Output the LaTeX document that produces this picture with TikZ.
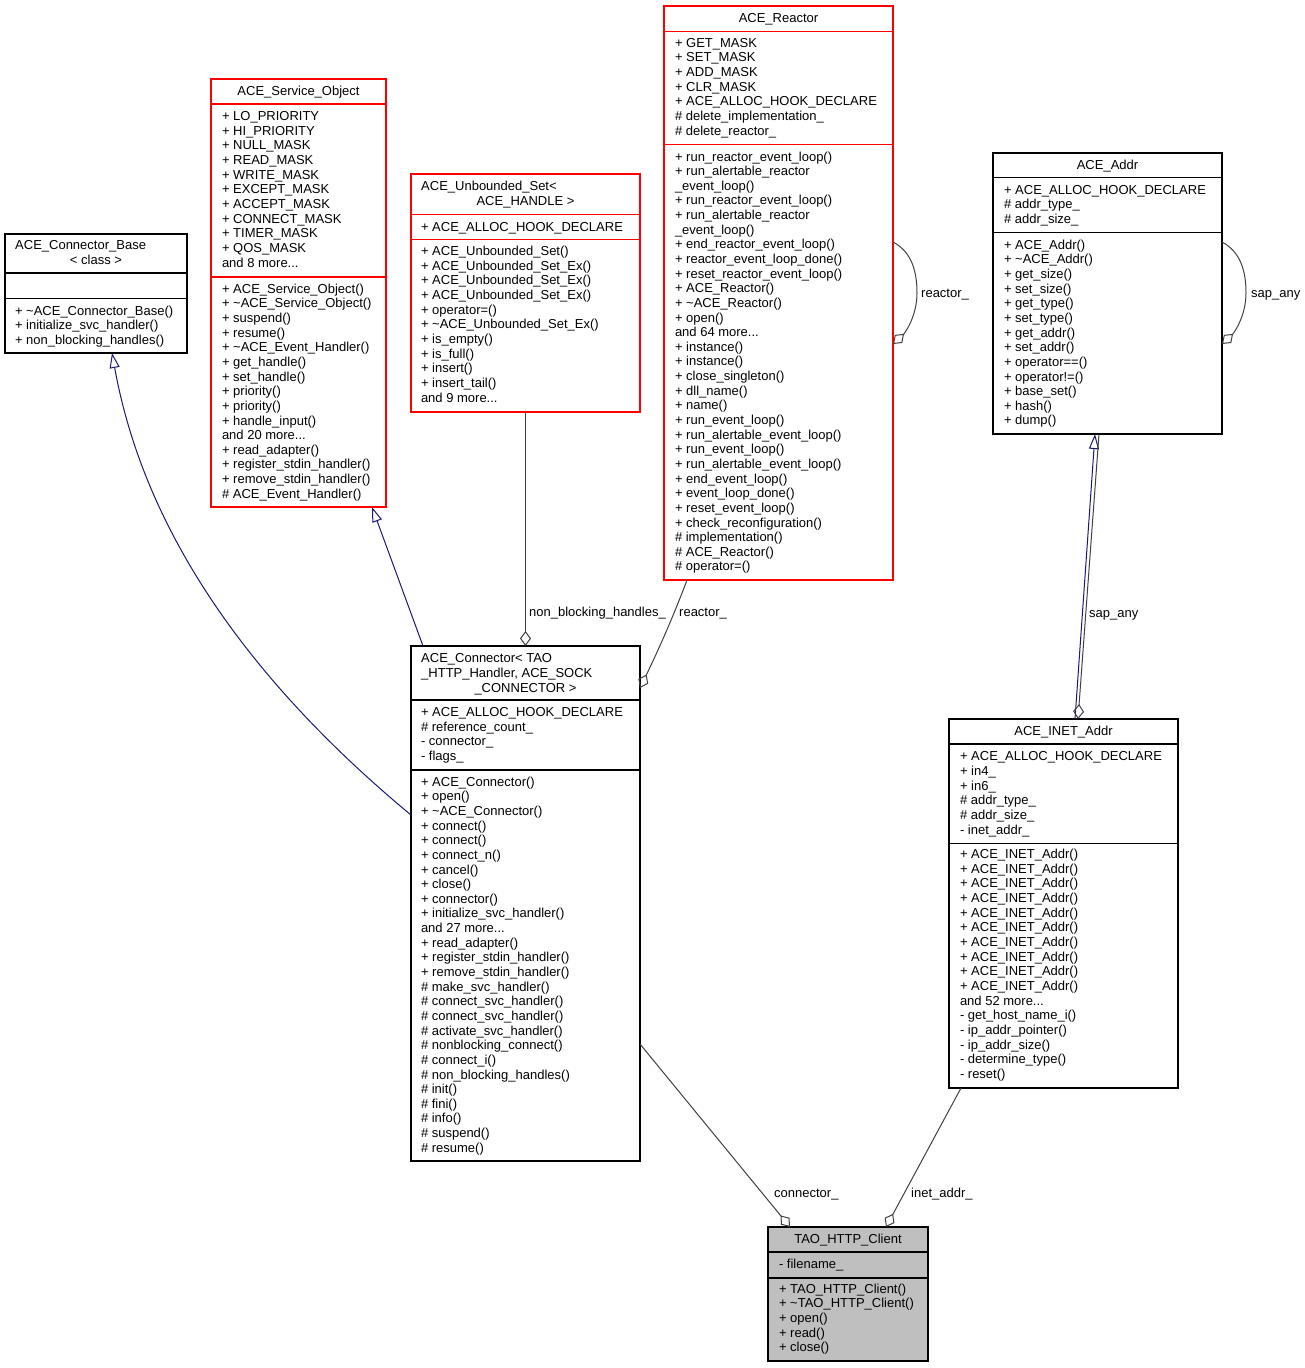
\documentclass[tikz,border=0pt]{standalone}
\usepackage{fontspec}
\setmainfont{Liberation Sans}
\usetikzlibrary{arrows.meta,calc}
\definecolor{navy}{HTML}{191970}
\definecolor{edgegray}{HTML}{404040}
\definecolor{boxred}{HTML}{FF0000}
\definecolor{clientgray}{HTML}{BFBFBF}
\newcommand\fs{\fontsize{13}{14.64}\selectfont}
\newcommand\st{\rule{0pt}{11pt}}
\begin{document}
\begin{tikzpicture}[x=1pt,y=-1pt,
  box/.style={draw=black, line width=1.2pt, inner sep=0pt, outer sep=0pt, anchor=north west},
  redbox/.style={box, draw=boxred},
  sepb/.style={draw=black, line width=1.2pt},
  sepr/.style={draw=boxred, line width=1.2pt},
  mem/.style={anchor=north west, inner sep=0pt, outer sep=0pt, align=left, font=\fs},
  ttl/.style={anchor=base, inner sep=0pt, font=\fs},
  ttll/.style={anchor=base west, inner sep=0pt, font=\fs},
  lbl/.style={anchor=base west, inner sep=0pt, font=\fs},
  inh/.style={draw=navy, line width=1pt, -{Triangle[open, length=15pt, width=10pt, line width=1pt]}},
  agg/.style={draw=edgegray, line width=1pt, -{Diamond[open, length=15pt, width=11pt, line width=1pt]}}
]
\useasboundingbox (0,0) rectangle (1305,1368);

% ---------- ACE_Connector_Base
\node[box, minimum width=182pt, minimum height=119pt] (cb) at (5,234) {};
\node[ttll] (cbt1) at (15,249) {ACE\_Connector\_Base};
\node[ttl] (cbt2) at (96,264.6) {< class >};
\draw[sepb] (5,273) -- (187,273);
\draw[sepb] (5,298.5) -- (187,298.5);
\node[mem] (cbm) at (15,304.3) {\st+ \textasciitilde ACE\_Connector\_Base()\\+ initialize\_svc\_handler()\\+ non\_blocking\_handles()};

% ---------- ACE_Service_Object
\node[redbox, minimum width=175pt, minimum height=428pt] (so) at (211,79) {};
\node[ttl] (sot) at (298.5,95.3) {ACE\_Service\_Object};
\draw[sepr] (211,104) -- (386,104);
\draw[sepr] (211,277) -- (386,277);
\node[mem] (soa) at (222,109.6) {\st+ LO\_PRIORITY\\+ HI\_PRIORITY\\+ NULL\_MASK\\+ READ\_MASK\\+ WRITE\_MASK\\+ EXCEPT\_MASK\\+ ACCEPT\_MASK\\+ CONNECT\_MASK\\+ TIMER\_MASK\\+ QOS\_MASK\\and 8 more...};
\node[mem] (som) at (222,282.3) {\st+ ACE\_Service\_Object()\\+ \textasciitilde ACE\_Service\_Object()\\+ suspend()\\+ resume()\\+ \textasciitilde ACE\_Event\_Handler()\\+ get\_handle()\\+ set\_handle()\\+ priority()\\+ priority()\\+ handle\_input()\\and 20 more...\\+ read\_adapter()\\+ register\_stdin\_handler()\\+ remove\_stdin\_handler()\\\# ACE\_Event\_Handler()};

% ---------- ACE_Unbounded_Set
\node[redbox, minimum width=229pt, minimum height=238pt] (us) at (411,174) {};
\node[ttll] (ust1) at (421,190.6) {ACE\_Unbounded\_Set<};
\node[ttl] (ust2) at (525.5,205) {ACE\_HANDLE >};
\draw[sepr] (411,214.3) -- (640,214.3);
\draw[sepr] (411,239.7) -- (640,239.7);
\node[mem] (usa) at (421,220.3) {\st+ ACE\_ALLOC\_HOOK\_DECLARE};
\node[mem] (usm) at (421,244.6) {\st+ ACE\_Unbounded\_Set()\\+ ACE\_Unbounded\_Set\_Ex()\\+ ACE\_Unbounded\_Set\_Ex()\\+ ACE\_Unbounded\_Set\_Ex()\\+ operator=()\\+ \textasciitilde ACE\_Unbounded\_Set\_Ex()\\+ is\_empty()\\+ is\_full()\\+ insert()\\+ insert\_tail()\\and 9 more...};

% ---------- ACE_Reactor
\node[redbox, minimum width=229pt, minimum height=574pt] (re) at (664,6) {};
\node[ttl] (ret) at (778.5,22) {ACE\_Reactor};
\draw[sepr] (664,31.3) -- (893,31.3);
\draw[sepr] (664,144.7) -- (893,144.7);
\node[mem] (rea) at (675,36.3) {\st+ GET\_MASK\\+ SET\_MASK\\+ ADD\_MASK\\+ CLR\_MASK\\+ ACE\_ALLOC\_HOOK\_DECLARE\\\# delete\_implementation\_\\\# delete\_reactor\_};
\node[mem] (rem) at (675,150) {\st+ run\_reactor\_event\_loop()\\+ run\_alertable\_reactor\\\_event\_loop()\\+ run\_reactor\_event\_loop()\\+ run\_alertable\_reactor\\\_event\_loop()\\+ end\_reactor\_event\_loop()\\+ reactor\_event\_loop\_done()\\+ reset\_reactor\_event\_loop()\\+ ACE\_Reactor()\\+ \textasciitilde ACE\_Reactor()\\+ open()\\and 64 more...\\+ instance()\\+ instance()\\+ close\_singleton()\\+ dll\_name()\\+ name()\\+ run\_event\_loop()\\+ run\_alertable\_event\_loop()\\+ run\_event\_loop()\\+ run\_alertable\_event\_loop()\\+ end\_event\_loop()\\+ event\_loop\_done()\\+ reset\_event\_loop()\\+ check\_reconfiguration()\\\# implementation()\\\# ACE\_Reactor()\\\# operator=()};

% ---------- ACE_Addr
\node[box, minimum width=229pt, minimum height=281pt] (ad) at (993,153) {};
\node[ttl] (adt) at (1107.5,169) {ACE\_Addr};
\draw[sepb] (993,177.7) -- (1222,177.7);
\draw[sepb] (993,232.7) -- (1222,232.7);
\node[mem] (ada) at (1004,183) {\st+ ACE\_ALLOC\_HOOK\_DECLARE\\\# addr\_type\_\\\# addr\_size\_};
\node[mem] (adm) at (1004,238.3) {\st+ ACE\_Addr()\\+ \textasciitilde ACE\_Addr()\\+ get\_size()\\+ set\_size()\\+ get\_type()\\+ set\_type()\\+ get\_addr()\\+ set\_addr()\\+ operator==()\\+ operator!=()\\+ base\_set()\\+ hash()\\+ dump()};

% ---------- ACE_Connector
\node[box, minimum width=229pt, minimum height=515pt] (cn) at (411,646) {};
\node[ttll] (cnt1) at (421,662.9) {ACE\_Connector< TAO};
\node[ttll] (cnt2) at (421,677.5) {\_HTTP\_Handler, ACE\_SOCK};
\node[ttl] (cnt3) at (525.5,692) {\_CONNECTOR >};
\draw[sepb] (411,700) -- (640,700);
\draw[sepb] (411,770) -- (640,770);
\node[mem] (cna) at (421,705.7) {\st+ ACE\_ALLOC\_HOOK\_DECLARE\\\# reference\_count\_\\- connector\_\\- flags\_};
\node[mem] (cnm) at (421,775.2) {\st+ ACE\_Connector()\\+ open()\\+ \textasciitilde ACE\_Connector()\\+ connect()\\+ connect()\\+ connect\_n()\\+ cancel()\\+ close()\\+ connector()\\+ initialize\_svc\_handler()\\and 27 more...\\+ read\_adapter()\\+ register\_stdin\_handler()\\+ remove\_stdin\_handler()\\\# make\_svc\_handler()\\\# connect\_svc\_handler()\\\# connect\_svc\_handler()\\\# activate\_svc\_handler()\\\# nonblocking\_connect()\\\# connect\_i()\\\# non\_blocking\_handles()\\\# init()\\\# fini()\\\# info()\\\# suspend()\\\# resume()};

% ---------- ACE_INET_Addr
\node[box, minimum width=229pt, minimum height=369pt] (in) at (949,719) {};
\node[ttl] (int) at (1063.5,735.3) {ACE\_INET\_Addr};
\draw[sepb] (949,744) -- (1178,744);
\draw[sepb] (949,843.5) -- (1178,843.5);
\node[mem] (ina) at (960,749.9) {\st+ ACE\_ALLOC\_HOOK\_DECLARE\\+ in4\_\\+ in6\_\\\# addr\_type\_\\\# addr\_size\_\\- inet\_addr\_};
\node[mem] (inm) at (960,847.7) {\st+ ACE\_INET\_Addr()\\+ ACE\_INET\_Addr()\\+ ACE\_INET\_Addr()\\+ ACE\_INET\_Addr()\\+ ACE\_INET\_Addr()\\+ ACE\_INET\_Addr()\\+ ACE\_INET\_Addr()\\+ ACE\_INET\_Addr()\\+ ACE\_INET\_Addr()\\+ ACE\_INET\_Addr()\\and 52 more...\\- get\_host\_name\_i()\\- ip\_addr\_pointer()\\- ip\_addr\_size()\\- determine\_type()\\- reset()};

% ---------- TAO_HTTP_Client
\node[box, fill=clientgray, minimum width=160pt, minimum height=134pt] (tao) at (768,1227) {};
\node[ttl] (taot) at (848,1243) {TAO\_HTTP\_Client};
\draw[sepb] (768,1252) -- (928,1252);
\draw[sepb] (768,1278) -- (928,1278);
\node[mem] (taoa) at (779,1257.6) {\st- filename\_};
\node[mem] (taom) at (779,1282.2) {\st+ TAO\_HTTP\_Client()\\+ \textasciitilde TAO\_HTTP\_Client()\\+ open()\\+ read()\\+ close()};

% ---------- edges: inheritance
\draw[inh] ($(cn.north west)+(0,169)$) .. controls (200,640) and (135,480) .. ($(cb.south west)+(107,0)$);
\draw[inh] ($(cn.north west)+(12,0)$) -- ($(so.south west)+(161,0)$);
\draw[inh] ($(in.north west)+(126,0)$) -- ($(ad.south west)+(102,0)$);

% ---------- edges: aggregation
\draw[agg] (us.south) -- (cn.north);
\draw[agg] ($(re.south west)+(23,0)$) .. controls (672,620) and (656,655) .. ($(cn.north east)+(0,42)$);
\draw[agg] ($(cn.north east)+(0,398)$) -- ($(tao.north west)+(22,0)$);
\draw[agg] ($(in.south west)+(12,0)$) -- ($(tao.north west)+(118,0)$);
\draw[agg] ($(ad.south west)+(106,0)$) -- ($(in.north west)+(129,0)$);
\draw[agg] ($(re.north east)+(0,236)$) .. controls (912,252) and (917,272) .. (917,293) .. controls (917,316) and (905,333) .. ($(re.north east)+(0,338)$);
\draw[agg] ($(ad.north east)+(0,89)$) .. controls (1241,252) and (1246,272) .. (1246,293) .. controls (1246,316) and (1234,333) .. ($(ad.north east)+(0,191)$);

% ---------- edge labels
\node[lbl] (l1) at (529,616.6) {non\_blocking\_handles\_};
\node[lbl] (l2) at (679,616.6) {reactor\_};
\node[lbl] (l3) at (1089,617) {sap\_any};
\node[lbl] (l4) at (774,1197.6) {connector\_};
\node[lbl] (l5) at (911,1197.6) {inet\_addr\_};
\node[lbl] (l6) at (921,297.6) {reactor\_};
\node[lbl] (l7) at (1251,297.6) {sap\_any};
\end{tikzpicture}
\end{document}
